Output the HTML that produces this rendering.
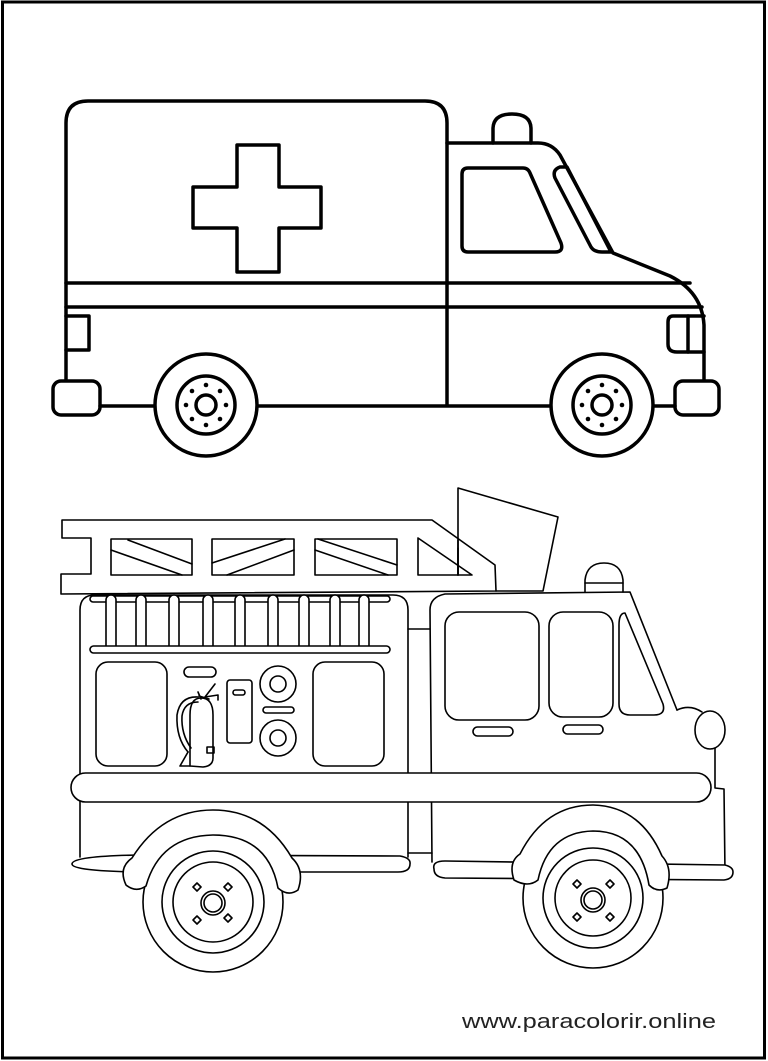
<!DOCTYPE html>
<html><head><meta charset="utf-8"><style>
html,body{margin:0;padding:0;background:#fff;}
svg{display:block;}
</style></head><body>
<svg width="768" height="1061" viewBox="0 0 768 1061" xmlns="http://www.w3.org/2000/svg">
<rect x="0" y="0" width="768" height="1061" fill="#fff"/>
<rect x="2.5" y="2" width="762" height="1056" fill="none" stroke="#000" stroke-width="3"/>

<!-- AMBULANCE -->
<g fill="none" stroke="#000" stroke-width="3.5" stroke-linejoin="round" stroke-linecap="round">
  <path d="M66,382 L66,123 Q66,101 88,101 L425,101 Q447,101 447,123 L447,405"/>
  <path d="M447,143 L538,143 Q552,143 560,155 L613,253 L670,276 Q702,292 704,325 L704,382"/>
  <line x1="66" y1="283" x2="690" y2="283"/>
  <line x1="66" y1="307" x2="702" y2="307"/>
  <path d="M237,145 L279,145 L279,187 L321,187 L321,228 L279,228 L279,272 L237,272 L237,228 L193,228 L193,187 L237,187 Z"/>
  <path d="M493,143 L493,129 Q493,114 512,114 Q531,114 531,129 L531,143"/>
  <path d="M468,168 L523,168 Q528,168 530,173 L561,243 Q564,252 555,252 L468,252 Q462,252 462,246 L462,174 Q462,168 468,168 Z"/>
  <path d="M560,167 Q552,170 555,178 L591,247 Q594,252 602,252 L611,252 L567,167 Z"/>
  <path d="M66,316 L89,316 L89,350 L66,350"/>
  <path d="M704,316 L673,316 Q668,316 668,322 L668,344 Q668,352 677,352 L704,352"/>
  <line x1="688" y1="316" x2="688" y2="352"/>
  <rect x="53" y="381" width="47" height="34" rx="8" fill="#fff"/>
  <rect x="675" y="381" width="44" height="34" rx="8" fill="#fff"/>
  <line x1="100" y1="406" x2="155" y2="406"/>
  <line x1="257" y1="406" x2="551" y2="406"/>
  <line x1="653" y1="406" x2="675" y2="406"/>
  <circle cx="206" cy="405" r="51" fill="#fff"/>
  <circle cx="206" cy="405" r="29"/>
  <circle cx="206" cy="405" r="10"/>
  <circle cx="602" cy="405" r="51" fill="#fff"/>
  <circle cx="602" cy="405" r="29"/>
  <circle cx="602" cy="405" r="10"/>
</g>
<g fill="#000">
  <circle cx="206" cy="385" r="2.3"/><circle cx="206" cy="425" r="2.3"/><circle cx="186" cy="405" r="2.3"/><circle cx="226" cy="405" r="2.3"/>
  <circle cx="192" cy="391" r="2.3"/><circle cx="220" cy="391" r="2.3"/><circle cx="192" cy="419" r="2.3"/><circle cx="220" cy="419" r="2.3"/>
  <circle cx="602" cy="385" r="2.3"/><circle cx="602" cy="425" r="2.3"/><circle cx="582" cy="405" r="2.3"/><circle cx="622" cy="405" r="2.3"/>
  <circle cx="588" cy="391" r="2.3"/><circle cx="616" cy="391" r="2.3"/><circle cx="588" cy="419" r="2.3"/><circle cx="616" cy="419" r="2.3"/>
</g>

<!-- FIRE TRUCK -->
<g fill="none" stroke="#000" stroke-width="1.6" stroke-linejoin="round" stroke-linecap="round">
  <!-- flag panel -->
  <path d="M458,575 L458,488 L558,517 L543,591 L496,591" fill="#fff"/>
  <line x1="458" y1="540" x2="458" y2="575"/>
  <!-- ladder -->
  <path d="M62,520 L432,520 L495,565 L496,591 L61,594 L61,574 L91,574 L91,538 L62,538 Z"/>
  <line x1="458" y1="548" x2="458" y2="575"/>
  <rect x="111" y="539" width="81" height="36"/>
  <line x1="128" y1="540" x2="192" y2="564"/><line x1="111" y1="550" x2="182" y2="575"/>
  <rect x="212" y="539" width="82" height="36"/>
  <line x1="212" y1="563" x2="285" y2="539"/><line x1="227" y1="575" x2="294" y2="550"/>
  <rect x="315" y="539" width="82" height="36"/>
  <line x1="318" y1="539" x2="397" y2="565"/><line x1="315" y1="550" x2="388" y2="575"/>
  <path d="M418,538 L418,575 L472,575 Z"/>
  <!-- rear body -->
  <path d="M80,857 L80,610 Q80,595 95,595 L393,595 Q408,595 408,610 L408,857"/>
  <path d="M408,629 L430,629"/><path d="M408,853 L432,853"/>
  <rect x="90" y="596" width="300" height="6" rx="3" fill="#fff"/>
  <g fill="#fff">
    <rect x="106" y="595" width="10" height="56" rx="5"/>
    <rect x="136" y="595" width="10" height="56" rx="5"/>
    <rect x="169" y="595" width="10" height="56" rx="5"/>
    <rect x="203" y="595" width="10" height="56" rx="5"/>
    <rect x="235" y="595" width="10" height="56" rx="5"/>
    <rect x="268" y="595" width="10" height="56" rx="5"/>
    <rect x="299" y="595" width="10" height="56" rx="5"/>
    <rect x="330" y="595" width="10" height="56" rx="5"/>
    <rect x="359" y="595" width="10" height="56" rx="5"/>
  </g>
  <rect x="90" y="646" width="300" height="7" rx="3.5" fill="#fff"/>
  <!-- compartments -->
  <rect x="96" y="662" width="71" height="104" rx="12"/>
  <rect x="313" y="662" width="71" height="104" rx="12"/>
  <rect x="184" y="667" width="32" height="10" rx="5"/>
  <rect x="227" y="680" width="25" height="63" rx="3"/>
  <rect x="233" y="690" width="12" height="5" rx="2.5"/>
  <circle cx="278" cy="684" r="18"/><circle cx="278" cy="684" r="8"/>
  <rect x="263" y="707" width="31" height="6" rx="3"/>
  <circle cx="278" cy="738" r="18"/><circle cx="278" cy="738" r="8"/>
  <!-- extinguisher -->
  <path d="M190,766 L190,715 Q190,698 201,698 Q213,698 213,715 L213,758 Q213,766 203,767 Z"/>
  <path d="M199,696 L209,699 M201,699 L198,692 M205,697 L215,684 M205,697 L218,695 L218,700"/>
  <path d="M198,697 Q180,696 177,715 Q176,738 188,752 M198,702 Q184,702 182,716 Q181,734 191,748"/>
  <path d="M188,752 L180,766 L190,766"/>
  <rect x="207" y="747" width="7" height="6"/>
  <!-- cab -->
  <path d="M432,862 L430,610 Q430,597 445,594 L630,592 L677,710"/>
  <path d="M677,710 Q690,704 702,712"/>
  <ellipse cx="710" cy="730" rx="15" ry="19" fill="#fff"/>
  <path d="M715,748 L715,788 L724,789 L725,873"/>
  <rect x="445" y="612" width="94" height="108" rx="14"/>
  <rect x="549" y="612" width="64" height="105" rx="14"/>
  <path d="M625,613 Q619,613 619,625 L619,704 Q619,715 630,715 L654,715 Q666,715 663,704 Z"/>
  <rect x="473" y="727" width="40" height="9" rx="4.5"/>
  <rect x="563" y="725" width="40" height="9" rx="4.5"/>
  <!-- beacon -->
  <path d="M585,592 L585,580 Q587,563 604,563 Q621,563 623,580 L623,592"/>
  <line x1="585" y1="583" x2="623" y2="583"/>
  <!-- big bar -->
  <rect x="71" y="773" width="640" height="29" rx="14.5" fill="#fff"/>
  <!-- running boards -->
  <path d="M72,864 Q72,856 140,855 L400,856 Q411,858 410,864 Q410,872 398,872 L140,872 Q72,871 72,864 Z" fill="#fff"/>
  <path d="M434,869 Q432,861 445,861 L725,865 Q733,867 733,872 Q733,879 724,880 L445,878 Q434,877 434,869 Z" fill="#fff"/>
  <!-- wheels -->
  <circle cx="213" cy="902" r="70" fill="#fff"/>
  <circle cx="213" cy="902" r="51"/>
  <circle cx="213" cy="902" r="40"/>
  <circle cx="213" cy="903" r="12"/><circle cx="213" cy="903" r="9"/>
  <circle cx="593" cy="898" r="70" fill="#fff"/>
  <circle cx="593" cy="898" r="50"/>
  <circle cx="593" cy="898" r="38"/>
  <circle cx="593" cy="900" r="12"/><circle cx="593" cy="900" r="9"/>
  <path d="M193,887 l4,-4 l4,4 l-4,4 Z"/><path d="M224,887 l4,-4 l4,4 l-4,4 Z"/>
  <path d="M193,920 l4,-4 l4,4 l-4,4 Z"/><path d="M224,918 l4,-4 l4,4 l-4,4 Z"/>
  <path d="M573,884 l4,-4 l4,4 l-4,4 Z"/><path d="M606,884 l4,-4 l4,4 l-4,4 Z"/>
  <path d="M573,917 l4,-4 l4,4 l-4,4 Z"/><path d="M606,917 l4,-4 l4,4 l-4,4 Z"/>
  <!-- fenders (on top of wheels) -->
  <path d="M126,885 Q118,868 132,858 Q162,810 213,810 Q264,810 292,858 Q305,870 298,890 Q288,897 278,888 Q268,835 213,835 Q160,836 146,886 Q136,893 126,885 Z" fill="#fff"/>
  <path d="M514,880 Q508,862 520,854 Q545,805 593,805 Q640,806 662,856 Q673,868 667,888 Q657,893 649,885 Q640,831 593,831 Q548,832 538,880 Q528,888 514,880 Z" fill="#fff"/>
</g>

<text x="462" y="1028" font-family="'Liberation Sans', 'DejaVu Sans', sans-serif" font-size="20" fill="#222" textLength="254" lengthAdjust="spacingAndGlyphs">www.paracolorir.online</text>
</svg>
</body></html>
